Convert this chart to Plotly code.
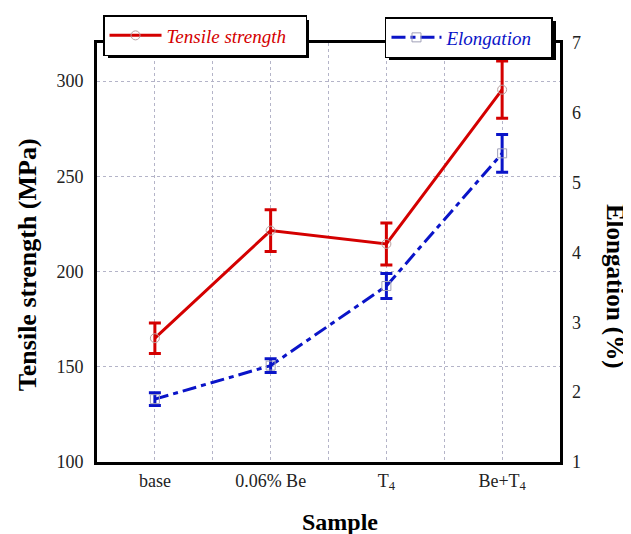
import plotly.graph_objects as go

samples = ["base", "0.06% Be", "T<sub>4</sub>", "Be+T<sub>4</sub>"]
tensile = [165, 221.5, 214.5, 295.5]
tensile_err = [8, 11, 11, 15]
elong = [1.9, 2.38, 3.52, 5.42]
elong_err = [0.09, 0.1, 0.18, 0.27]

xpos = list(range(len(samples)))
FONT = "Liberation Serif"
RED = "#d40000"
BLUE = "#0a14c8"
GRID = "#b4b4c8"
NB = "\u00a0"

# page body adds an 8px offset; figure is sized so the page matches 631x534
W, H = 623, 526
L, R, T, B = 89, 71, 35, 72

fig = go.Figure()
fig.add_trace(go.Scatter(
    x=xpos, y=tensile, name="<i>Tensile strength</i>" + NB * 3, mode="lines+markers",
    line=dict(color=RED, width=3),
    marker=dict(symbol="circle-open", size=9, color="#b8a0a0", line=dict(width=1)),
    error_y=dict(type="data", array=tensile_err, color=RED, thickness=3, width=6),
    legend="legend",
))
fig.add_trace(go.Scatter(
    x=xpos, y=elong, name="<i>Elongation</i>" + NB * 3, mode="lines+markers", yaxis="y2",
    line=dict(color=BLUE, width=3, dash="14px,5px,5px,5px"),
    marker=dict(symbol="square-open", size=9, color="#a0a0b8", line=dict(width=1)),
    error_y=dict(type="data", array=elong_err, color=BLUE, thickness=3, width=6),
    legend="legend2",
))

grid = dict(showgrid=True, gridcolor=GRID, griddash="dot", gridwidth=1)

def shadow(x0, y0, x1, y1):
    # coordinates given in page pixels
    x0, x1, y0, y1 = x0 - 8, x1 - 8, y0 - 8, y1 - 8
    pw, ph = W - L - R, H - T - B
    return dict(type="rect", xref="paper", yref="paper",
                x0=(x0 - L) / pw, x1=(x1 - L) / pw,
                y0=(H - B - y0) / ph, y1=(H - B - y1) / ph,
                fillcolor="black", line=dict(width=0), layer="above")

fig.update_layout(
    width=W, height=H,
    margin=dict(l=L, r=R, t=T, b=B, autoexpand=False),
    paper_bgcolor="white", plot_bgcolor="white",
    font=dict(family=FONT, size=18, color="#222"),
    showlegend=True,
    xaxis=dict(
        range=[-0.5, 3.5], tickmode="array", tickvals=xpos, ticktext=samples,
        showline=True, linecolor="black", linewidth=3, mirror=True, ticks="",
        zeroline=False, automargin=False,
        minor=dict(tick0=0, dtick=0.5, showgrid=True, gridcolor=GRID, griddash="dot", gridwidth=1),
        **grid,
    ),
    yaxis=dict(
        range=[100, 320], tickvals=[100, 150, 200, 250, 300],
        showline=True, linecolor="black", linewidth=3, mirror=True, ticks="",
        zeroline=False, automargin=False, ticklabelstandoff=7,
        **grid,
    ),
    yaxis2=dict(
        range=[1, 7], tickvals=[1, 2, 3, 4, 5, 6, 7], overlaying="y", side="right",
        showgrid=False, zeroline=False, ticks="", showline=False, automargin=False,
        ticklabelstandoff=11,
    ),
    legend=dict(
        x=0.013, y=1.0668, xanchor="left", yanchor="top",
        bgcolor="white", bordercolor="black", borderwidth=1.5, itemwidth=52,
        font=dict(family=FONT, size=19, color=RED),
    ),
    legend2=dict(
        x=0.622, y=1.062, xanchor="left", yanchor="top",
        bgcolor="white", bordercolor="black", borderwidth=1.5, itemwidth=50,
        font=dict(family=FONT, size=19, color=BLUE),
    ),
    shapes=[shadow(108, 20, 309, 58), shadow(389, 21, 556, 60)],
    annotations=[
        dict(text="<b>Elongation (%)</b>", textangle=90, xref="paper", yref="paper",
             x=1.119, y=0.42, xanchor="center", yanchor="middle", showarrow=False,
             font=dict(family=FONT, size=25, color="black")),
        dict(text="<b>Tensile strength (MPa)</b>", textangle=-90, xref="paper", yref="paper",
             x=-0.151, y=0.47, xanchor="center", yanchor="middle", showarrow=False,
             font=dict(family=FONT, size=26, color="black")),
        dict(text="<b>Sample</b>", xref="paper", yref="paper",
             x=0.525, y=-0.143, xanchor="center", yanchor="middle", showarrow=False,
             font=dict(family=FONT, size=24, color="black")),
    ],
)

fig.write_html("out.html")
